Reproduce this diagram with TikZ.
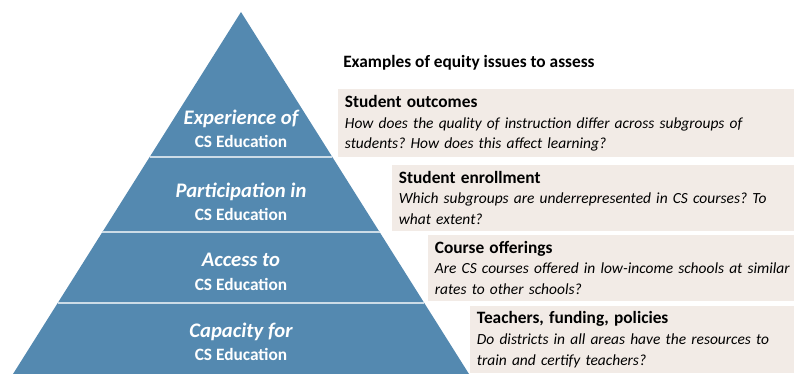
\documentclass[tikz,border=0pt]{standalone}
\usepackage{fontspec}
\setmainfont{Carlito}
\usetikzlibrary{positioning,calc}
\definecolor{pyrblue}{RGB}{84,137,176}
\definecolor{boxbeige}{RGB}{242,235,230}
\newcommand{\tiername}[1]{{\bfseries\itshape\fontsize{15.5}{17}\selectfont #1}}
\newcommand{\issuehead}[1]{{\upshape\bfseries\fontsize{13}{15.5}\selectfont #1}}

\begin{document}
\frenchspacing
\begin{tikzpicture}[
    x=0.75pt, y=-0.75pt,
    tier/.style={text=white, align=center, font=\bfseries\fontsize{13}{17.5}\selectfont},
    issuebox/.style={fill=boxbeige, anchor=north west, align=left, inner xsep=5pt, inner ysep=0pt, text width=320pt, font=\itshape\fontsize{11.6}{15.5}\selectfont},
    divider/.style={draw=white!70!pyrblue, line width=1pt}
]
    \useasboundingbox (0,0) rectangle (794,374);

    % Pyramid
    \coordinate (apex) at (241,12);
    \coordinate (baseL) at (13,374);
    \coordinate (baseR) at (469,374);
    \fill[pyrblue] (apex) -- (baseR) -- (baseL) -- cycle;

    % Tier dividers
    \foreach \f/\n in {0.4006/a, 0.6077/b, 0.8039/c} {
        \coordinate (div\n L) at ($(apex)!\f!(baseL)$);
        \coordinate (div\n R) at ($(apex)!\f!(baseR)$);
        \draw[divider] (div\n L) -- (div\n R);
    }

    % Tier labels
    \node[tier] (experience) at (241,129) {\tiername{Experience of}\\CS Education};
    \node[tier] (participation) at (241,202) {\tiername{Participation in}\\CS Education};
    \node[tier] (access) at (241,272) {\tiername{Access to}\\CS Education};
    \node[tier] (capacity) at (241,342) {\tiername{Capacity for}\\CS Education};

    % Heading
    \node[anchor=west, inner sep=0pt, font=\bfseries\fontsize{13}{15}\selectfont] (heading) at (343,63) {Examples of equity issues to assess};

    % Issue boxes (run past the right edge, cut off by the page)
    \node[issuebox, text width=340pt, minimum height=51pt] (outcomes) at (338,89)
        {\issuehead{Student outcomes}\\How does the quality of instruction differ across subgroups of\\students? How does this affect learning?};
    \node[issuebox, minimum height=49pt] (enrollment) at (392,165)
        {\issuehead{Student enrollment}\\Which subgroups are underrepresented in CS courses? To\\what extent?};
    \node[issuebox, minimum height=49pt] (offerings) at (428,235)
        {\issuehead{Course offerings}\\Are CS courses offered in low-income schools at similar\\rates to other schools?};
    \node[issuebox, minimum height=50pt] (teachers) at (470,306)
        {\issuehead{Teachers, funding, policies}\\Do districts in all areas have the resources to\\train and certify teachers?};
\end{tikzpicture}
\end{document}
